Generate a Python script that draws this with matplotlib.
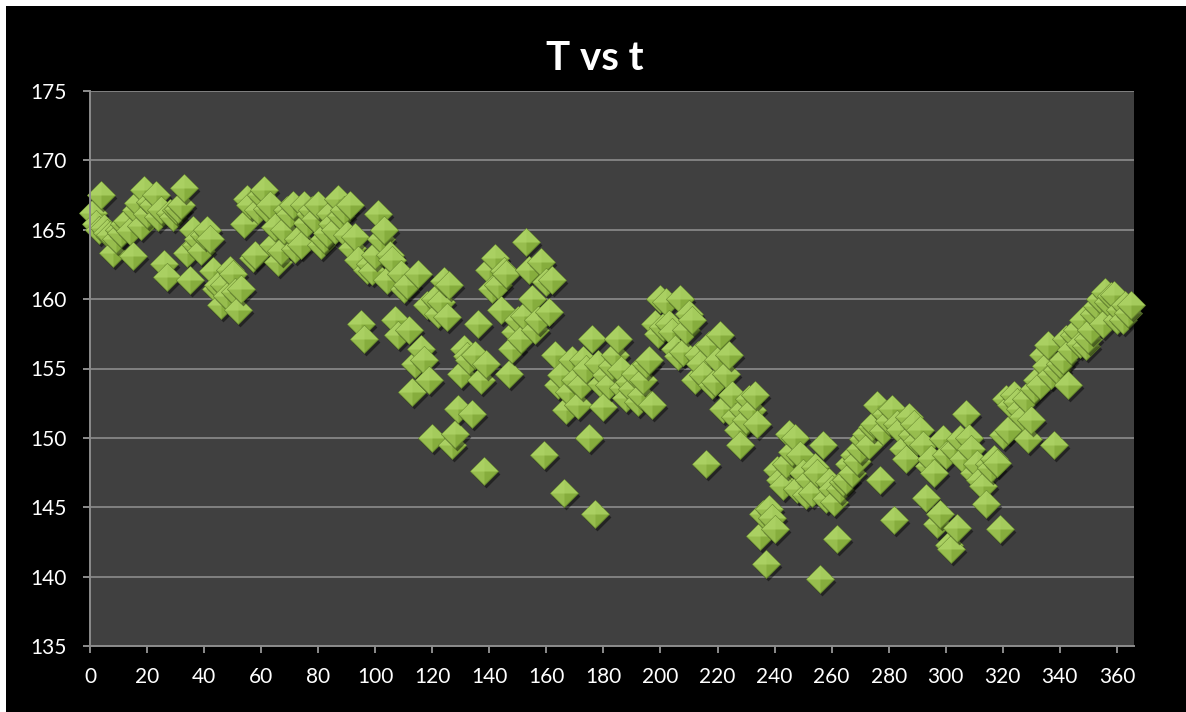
import numpy as np
import matplotlib
matplotlib.use("Agg")
import matplotlib.pyplot as plt
import matplotlib.transforms as mtrans
from matplotlib.patches import Rectangle

# daily temperature readings (day 1 .. 365)
temps = [
    166.2, 165.4, 165.0, 167.5, 165.1, 164.8, 164.6, 163.3, 164.3, 165.0,
    164.8, 165.4, 165.6, 164.9, 163.1, 166.4, 166.9, 165.3, 167.9, 166.1,
    167.0, 166.8, 167.5, 165.9, 166.4, 162.5, 161.6, 166.2, 165.9, 166.4,
    166.5, 166.8, 168.0, 163.3, 161.4, 165.0, 163.9, 164.3, 163.5, 164.6,
    165.0, 164.3, 162.0, 160.7, 161.0, 159.6, 161.0, 160.2, 162.1, 161.8,
    160.5, 159.2, 160.7, 165.4, 167.2, 166.8, 163.0, 163.2, 166.4, 167.5,
    167.9, 166.5, 166.8, 163.9, 165.2, 162.7, 163.5, 165.0, 166.4, 166.1,
    166.8, 163.6, 164.3, 163.9, 166.8, 165.5, 166.1, 166.4, 165.8, 166.8,
    163.9, 164.3, 164.8, 166.1, 165.4, 165.0, 167.2, 166.0, 166.4, 164.6,
    166.8, 163.7, 164.5, 162.8, 158.2, 157.1, 162.1, 162.5, 162.0, 163.2,
    166.1, 164.3, 165.0, 161.4, 163.2, 162.8, 158.5, 157.4, 161.8, 160.7,
    161.0, 157.8, 153.3, 155.3, 161.8, 156.4, 155.6, 159.6, 154.2, 150.0,
    160.0, 158.9, 159.8, 161.3, 158.7, 161.0, 149.5, 150.3, 152.1, 154.6,
    156.4, 155.9, 155.6, 151.7, 156.0, 158.2, 154.2, 147.6, 155.3, 162.1,
    160.7, 163.0, 161.0, 159.2, 162.0, 161.8, 154.6, 156.4, 157.6, 158.5,
    157.1, 158.8, 164.1, 162.1, 160.0, 157.8, 158.5, 162.7, 148.8, 161.2,
    159.1, 161.4, 156.0, 153.8, 154.5, 146.0, 152.0, 153.3, 155.6, 154.2,
    152.4, 153.8, 155.6, 155.0, 150.0, 157.1, 144.5, 155.3, 153.9, 152.2,
    154.5, 153.8, 155.2, 156.0, 157.1, 154.9, 153.6, 152.9, 154.0, 153.5,
    154.6, 152.6, 153.1, 154.2, 155.3, 155.6, 152.4, 158.2, 157.5, 160.0,
    158.0, 159.8, 158.2, 157.6, 156.4, 155.9, 160.0, 156.2, 157.8, 158.9,
    158.5, 154.2, 156.0, 155.3, 154.5, 148.1, 156.7, 153.8, 154.0, 155.6,
    157.4, 152.1, 154.6, 156.0, 153.1, 151.5, 150.6, 149.5, 152.0, 151.3,
    152.8, 152.0, 153.1, 151.0, 142.9, 144.5, 140.9, 144.9, 144.2, 143.4,
    147.7, 147.0, 146.5, 148.1, 150.3, 149.0, 150.0, 146.3, 148.8, 147.5,
    145.9, 147.0, 146.0, 147.9, 147.5, 139.8, 149.5, 145.6, 146.8, 146.3,
    145.4, 142.7, 146.3, 146.8, 147.0, 148.1, 147.5, 148.8, 148.3, 149.2,
    149.9, 150.3, 149.5, 150.8, 151.0, 152.4, 147.0, 150.5, 151.7, 151.2,
    152.1, 144.1, 151.0, 150.6, 149.2, 148.5, 151.5, 150.2, 151.0, 149.8,
    150.6, 149.5, 145.7, 148.0, 148.5, 147.5, 143.8, 144.5, 149.9, 148.8,
    142.3, 142.0, 149.2, 143.5, 149.9, 148.5, 151.7, 150.0, 149.2, 147.5,
    148.1, 147.0, 146.5, 145.2, 148.1, 147.8, 148.5, 148.2, 143.4, 150.2,
    152.8, 150.6, 152.4, 153.1, 152.6, 152.1, 151.5, 152.8, 149.9, 151.3,
    153.5, 154.2, 153.8, 156.0, 155.2, 156.7, 154.5, 149.5, 154.9, 155.3,
    155.6, 157.1, 153.8, 156.3, 157.4, 157.8, 156.8, 158.5, 156.6, 157.1,
    157.8, 158.9, 159.5, 160.0, 158.2, 160.5, 159.8, 160.2, 160.3, 158.5,
    159.2, 158.5, 159.6, 159.0, 159.6,
]
days = list(range(1, len(temps) + 1))

title = "T vs t"
x_ticks = list(range(0, 361, 20))
y_ticks = list(range(135, 176, 5))

plt.rcParams["font.family"] = ["Lato", "DejaVu Sans"]

fig = plt.figure(figsize=(11.86, 7.12), dpi=100, facecolor="white")
# black chart area (thin white margin top/left like the screenshot)
fig.patches.append(Rectangle((6 / 1186, 0), 1, 1 - 6 / 712, transform=fig.transFigure,
                             facecolor="black", edgecolor="none", zorder=-10))

ax = fig.add_axes([90 / 1186, 1 - 646 / 712, (1134 - 90) / 1186, (646 - 91) / 712])
ax.set_facecolor("#404040")
ax.set_xlim(0, 366)
ax.set_ylim(135, 175)
ax.set_xticks(x_ticks)
ax.set_yticks(y_ticks)
ax.grid(axis="y", color="#8c8c8c", linewidth=1.2)
ax.set_axisbelow(True)
for s in ["top", "right"]:
    ax.spines[s].set_visible(False)
for s in ["left", "bottom"]:
    ax.spines[s].set_color("#8c8c8c")
    ax.spines[s].set_linewidth(1.4)
ax.tick_params(colors="#8c8c8c", labelcolor="white", labelsize=15, length=5, width=1.4)
ax.tick_params(axis="y", pad=12)
ax.tick_params(axis="x", pad=10)

# bevelled diamond markers: shadow, lower (darker) half, upper (lighter) half
diamond = [(-1, 0), (0, 1), (1, 0), (0, -1), (-1, 0)]
upper = [(-1, 0), (0, 1), (1, 0), (0, 0), (-1, 0)]
left = [(-1, 0), (0, 1), (0, 0), (0, -1), (-1, 0)]
ms = 20
shadow_tr = mtrans.offset_copy(ax.transData, fig=fig, x=2, y=-3, units="dots")
for d, t in zip(days, temps):
    ax.plot(d, t, marker=diamond, ms=ms, color="black", alpha=0.45, clip_on=False,
            markeredgewidth=0, transform=shadow_tr, linestyle="none")
    ax.plot(d, t, marker=diamond, ms=ms, markerfacecolor="#86ad3d", clip_on=False,
            markeredgecolor="#5f7f2a", markeredgewidth=0.7, linestyle="none")
    ax.plot(d, t, marker=upper, ms=ms, markerfacecolor="#a4cb5c", clip_on=False,
            markeredgewidth=0, linestyle="none")
    ax.plot(d, t, marker=left, ms=ms, markerfacecolor="#b8dc70", alpha=0.35,
            clip_on=False, markeredgewidth=0, linestyle="none")

fig.text(595 / 1186, 1 - 58 / 712, title, color="white", fontsize=29,
         fontweight="bold", ha="center", va="center")

fig.savefig("out.png", dpi=100, facecolor=fig.get_facecolor())
